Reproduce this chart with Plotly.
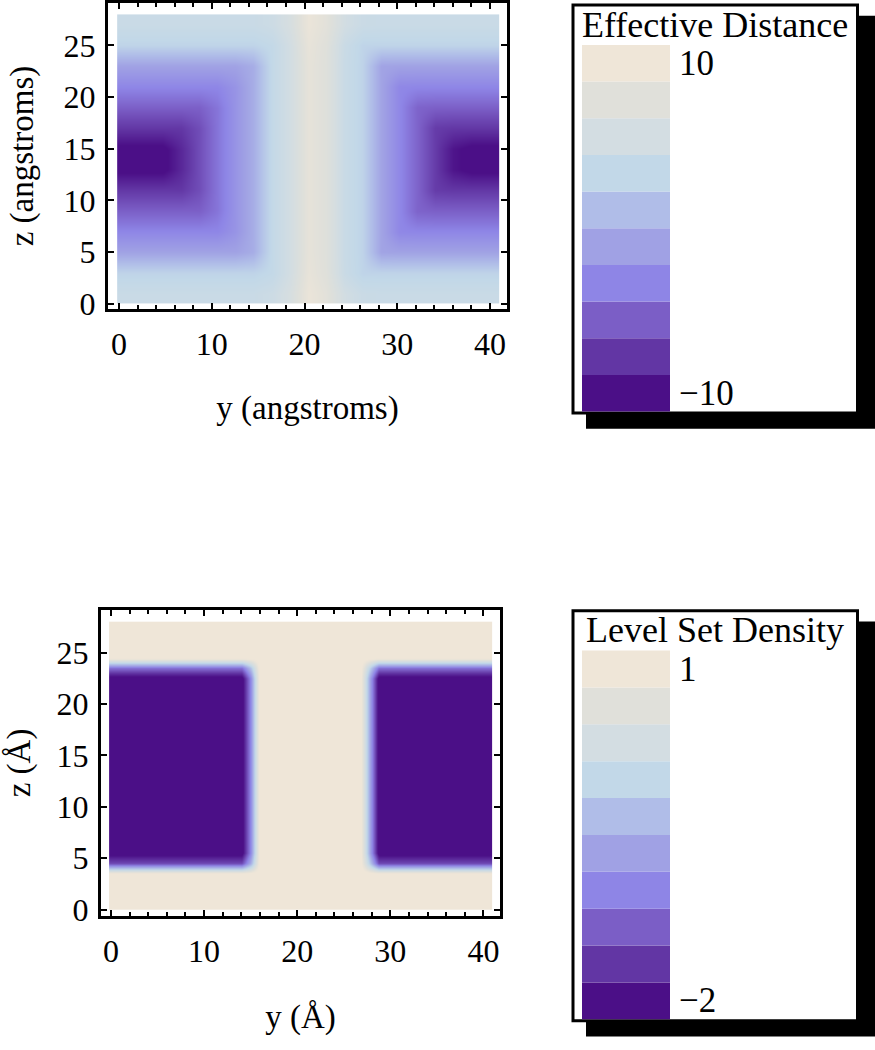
import plotly.graph_objects as go

W, H = 875, 1050
FONT = 'Liberation Serif'

# legend swatch colours, lowest bin first
swatch_colors = ['#4b0f87', '#6236a4', '#7b5ec6', '#8e85e6', '#a0a1e4',
                 '#b0bde8', '#c2d8e8', '#d3dde2', '#e0e0da', '#efe6d8']

# upper panel: effective distance
# columns start at y = 0.78 (step 1.96), rows start at z = 1 (step 2)
dist_y0, dist_dy = 0.78, 1.96
dist_z0, dist_dz = 1.0, 2.0
effective_distance = [
    [3.8, 3.8, 3.8, 3.8, 3.8, 3.8, 3.8, 3.8, 4.2, 5.6, 8.4, 7.3, 4.9, 3.9, 3.8, 3.8, 3.8, 3.8, 3.8, 3.8, 3.8],
    [2.7, 2.7, 2.7, 2.7, 2.7, 2.7, 2.7, 2.7, 3.2, 5.0, 8.0, 6.8, 3.9, 2.7, 2.7, 2.7, 2.7, 2.7, 2.7, 2.7, 2.7],
    [-0.9, -0.9, -0.9, -0.9, -0.9, -0.9, -0.9, -0.1, 3.2, 5.0, 7.8, 6.7, 3.8, 2.6, -0.8, -0.9, -0.9, -0.9, -0.9, -0.9, -0.9],
    [-2.9, -2.9, -2.9, -2.9, -2.9, -2.9, -1.9, -0.1, 3.2, 5.0, 7.8, 6.7, 3.8, 2.6, -0.8, -2.8, -2.9, -2.9, -2.9, -2.9, -2.9],
    [-4.9, -4.9, -4.9, -4.9, -4.9, -3.8, -1.9, -0.1, 3.2, 5.0, 7.8, 6.7, 3.8, 2.6, -0.8, -2.8, -4.7, -4.9, -4.9, -4.9, -4.9],
    [-6.9, -6.9, -6.9, -6.9, -5.8, -3.8, -1.9, -0.1, 3.2, 5.0, 7.8, 6.7, 3.8, 2.6, -0.8, -2.8, -4.7, -6.7, -6.9, -6.9, -6.9],
    [-9.4, -9.4, -9.4, -7.7, -5.8, -3.8, -1.9, -0.1, 3.2, 5.0, 7.8, 6.7, 3.8, 2.6, -0.8, -2.8, -4.7, -6.7, -8.7, -9.4, -9.4],
    [-9.4, -9.4, -9.4, -7.7, -5.8, -3.8, -1.9, -0.1, 3.2, 5.0, 7.8, 6.7, 3.8, 2.6, -0.8, -2.8, -4.7, -6.7, -8.7, -9.4, -9.4],
    [-6.9, -6.9, -6.9, -6.9, -5.8, -3.8, -1.9, -0.1, 3.2, 5.0, 7.8, 6.7, 3.8, 2.6, -0.8, -2.8, -4.7, -6.7, -6.9, -6.9, -6.9],
    [-4.9, -4.9, -4.9, -4.9, -4.9, -3.8, -1.9, -0.1, 3.2, 5.0, 7.8, 6.7, 3.8, 2.6, -0.8, -2.8, -4.7, -4.9, -4.9, -4.9, -4.9],
    [-2.9, -2.9, -2.9, -2.9, -2.9, -2.9, -1.9, -0.1, 3.2, 5.0, 7.8, 6.7, 3.8, 2.6, -0.8, -2.8, -2.9, -2.9, -2.9, -2.9, -2.9],
    [-0.9, -0.9, -0.9, -0.9, -0.9, -0.9, -0.9, -0.1, 3.2, 5.0, 7.8, 6.7, 3.8, 2.6, -0.8, -0.9, -0.9, -0.9, -0.9, -0.9, -0.9],
    [2.7, 2.7, 2.7, 2.7, 2.7, 2.7, 2.7, 2.7, 3.2, 5.0, 8.0, 6.8, 3.9, 2.7, 2.7, 2.7, 2.7, 2.7, 2.7, 2.7, 2.7],
    [3.8, 3.8, 3.8, 3.8, 3.8, 3.8, 3.8, 3.8, 4.2, 5.6, 8.4, 7.3, 4.9, 3.9, 3.8, 3.8, 3.8, 3.8, 3.8, 3.8, 3.8],
]

# lower panel: level set density, columns start at y = 0.29 (step 0.98),
# rows start at z = 0.5 (step 1)
dens_y0, dens_dy = 0.29, 0.98
dens_z0, dens_dz = 0.5, 1.0
row_outside = [1.0] * 42
row_lower_edge = [-1.4] * 15 + [-0.5] + [1.0] * 12 + [-0.2] + [-1.4] * 13
row_inside = [-2.0] * 15 + [-0.9] + [1.0] * 12 + [-0.6] + [-2.0] * 13
row_upper_edge = [-1.1] * 15 + [-0.3] + [1.0] * 12 + [-0.1] + [-1.1] * 13
level_set_density = ([row_outside] * 4 + [row_lower_edge] + [row_inside] * 18
                     + [row_upper_edge] + [row_outside] * 4)

dist_range = (-10, 10)
dens_range = (-2, 1)
dist_labels = ['\u221210', '10']
dens_labels = ['\u22122', '1']


def px(x):
    return x / W


def py(y):
    return 1 - y / H


def swatch_scale(colors):
    n = len(colors)
    scale = [[0.0, colors[0]]]
    for i, c in enumerate(colors):
        scale.append([(i + 0.5) / n, c])
    scale.append([1.0, colors[-1]])
    return scale


fig = go.Figure()
fig.add_trace(go.Heatmap(z=effective_distance, x0=dist_y0, dx=dist_dy,
                         y0=dist_z0, dy=dist_dz, zsmooth='best',
                         colorscale=swatch_scale(swatch_colors),
                         zmin=dist_range[0], zmax=dist_range[1],
                         showscale=False, xaxis='x', yaxis='y'))
fig.add_trace(go.Heatmap(z=level_set_density, x0=dens_y0, dx=dens_dy,
                         y0=dens_z0, dy=dens_dz, zsmooth='best',
                         colorscale=swatch_scale(swatch_colors),
                         zmin=dens_range[0], zmax=dens_range[1],
                         showscale=False, xaxis='x2', yaxis='y2'))


def frame_axis(domain, rng, dtick, title, minor, standoff, label_gap):
    ax = dict(domain=domain, range=rng, dtick=dtick, tick0=0,
              ticks='inside', ticklen=6, tickwidth=2, tickcolor='black',
              showline=True, linewidth=3, linecolor='black', mirror='ticks',
              showgrid=False, zeroline=False, fixedrange=True,
              ticklabelstandoff=label_gap,
              tickfont=dict(family=FONT, size=32, color='black'),
              title=dict(text=title, standoff=standoff,
                         font=dict(family=FONT, size=33, color='black')))
    if minor:
        ax['minor'] = dict(dtick=2, ticks='inside', ticklen=4, tickwidth=1.5,
                           tickcolor='black')
    return ax


fig.update_layout(
    xaxis=frame_axis([px(108), px(507)], [-1.19, 41.83], 10, 'y (angstroms)', True, 35, 5),
    yaxis=frame_axis([py(311), py(1.5)], [-0.48, 29.06], 5, 'z (angstroms)', False, 21, 3),
    xaxis2=frame_axis([px(101), px(500)], [-1.07, 41.78], 10, 'y (\u00c5)', True, 37, 5),
    yaxis2=frame_axis([py(927), py(617)], [-0.60, 29.12], 5, 'z (\u00c5)', False, 17, 3),
)
fig.layout.xaxis.anchor = 'y'
fig.layout.yaxis.anchor = 'x'
fig.layout.xaxis2.anchor = 'y2'
fig.layout.yaxis2.anchor = 'x2'

shapes = []
annotations = []


def add_key(top, bottom, title, labels):
    shapes.append(dict(type='rect', xref='paper', yref='paper',
                       x0=px(586), x1=px(880), y0=py(bottom + 16), y1=py(top + 11),
                       fillcolor='black', line=dict(width=0)))
    shapes.append(dict(type='rect', xref='paper', yref='paper',
                       x0=px(573), x1=px(857.5), y0=py(bottom), y1=py(top),
                       fillcolor='white', line=dict(color='black', width=3)))
    sw_top, sw_bot = top + 40.5, bottom - 1.5
    step = (sw_bot - sw_top) / len(swatch_colors)
    for i, c in enumerate(swatch_colors):
        y_lo = sw_bot - i * step
        shapes.append(dict(type='rect', xref='paper', yref='paper',
                           x0=px(582), x1=px(670), y0=py(y_lo), y1=py(y_lo - step),
                           fillcolor=c, line=dict(width=0)))
    annotations.append(dict(text=title, x=px(715), y=py(top + 20), xref='paper',
                            yref='paper', xanchor='center', yanchor='middle',
                            showarrow=False,
                            font=dict(family=FONT, size=36, color='black')))
    for lab, yc in zip(labels, [sw_bot - step / 2, sw_top + step / 2]):
        annotations.append(dict(text=lab, x=px(677), y=py(yc), xref='paper',
                                yref='paper', xanchor='left', yanchor='middle',
                                showarrow=False,
                                font=dict(family=FONT, size=35, color='black')))


add_key(3, 417, 'Effective Distance', dist_labels)
add_key(617.5, 1033.5, 'Level Set Density', dens_labels)

fig.update_layout(width=W, height=H, margin=dict(l=0, r=0, t=0, b=0),
                  paper_bgcolor='white', plot_bgcolor='white',
                  showlegend=False, shapes=shapes, annotations=annotations)

# the page body has a default 8px margin; drop it so the figure fills the window
fig.write_html('out.html', config={'displayModeBar': False},
               post_script="document.body.style.margin = '0';")
